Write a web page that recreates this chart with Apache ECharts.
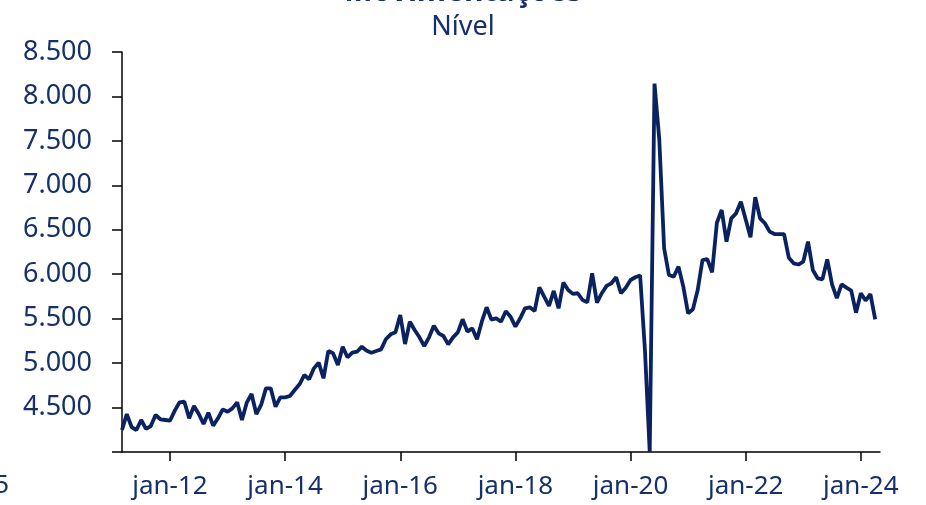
<!DOCTYPE html>
<html>
<head>
<meta charset="utf-8">
<script src="https://cdn.jsdelivr.net/npm/echarts@6/dist/echarts.min.js"></script>
<style>
  html, body { margin: 0; padding: 0; background: #fff; }
  #chart { width: 926px; height: 505px; }
</style>
</head>
<body>
<div id="chart"></div>
<script>
  // meses mar-11 .. abr-24
  const monthNames = ['jan', 'fev', 'mar', 'abr', 'mai', 'jun', 'jul', 'ago', 'set', 'out', 'nov', 'dez']
  const categories = []
  for (let y = 2011; y <= 2024; y++) {
    for (let m = 0; m < 12; m++) {
      if (y === 2011 && m < 2) continue
      if (y === 2024 && m > 3) continue
      categories.push(monthNames[m] + '-' + String(y).slice(2))
    }
  }

  const values = [
    4247, 4427, 4281, 4247, 4360, 4259, 4292, 4416, 4368, 4360,
    4352, 4465, 4559, 4566, 4379, 4517, 4427, 4315, 4442, 4296,
    4379, 4480, 4453, 4491, 4559, 4360, 4555, 4652, 4427, 4529,
    4716, 4716, 4510, 4615, 4615, 4630, 4697, 4762, 4866, 4818,
    4941, 5005, 4829, 5136, 5110, 4979, 5185, 5065, 5117, 5128,
    5185, 5140, 5117, 5136, 5155, 5268, 5324, 5346, 5541, 5215,
    5466, 5373, 5290, 5193, 5290, 5421, 5335, 5305, 5211, 5290,
    5346, 5493, 5354, 5391, 5268, 5466, 5628, 5490, 5504, 5466,
    5584, 5522, 5410, 5504, 5616, 5628, 5586, 5853, 5748, 5643,
    5812, 5616, 5905, 5823, 5779, 5786, 5710, 5684, 6011, 5681,
    5786, 5868, 5898, 5966, 5786, 5849, 5935, 5966, 5986, 5150,
    4000, 8145, 7510, 6292, 5991, 5972, 6085, 5860, 5560, 5606,
    5823, 6160, 6171, 6021, 6579, 6722, 6366, 6629, 6685, 6816,
    6617, 6416, 6866, 6629, 6573, 6479, 6452, 6452, 6452, 6185,
    6123, 6109, 6141, 6366, 6047, 5954, 5942, 6167, 5885, 5731,
    5885, 5849, 5816, 5567, 5786, 5704, 5776, 5493
  ]

  // rótulos do eixo x: jan de anos pares
  const xTickLabels = ['jan-12', 'jan-14', 'jan-16', 'jan-18', 'jan-20', 'jan-22', 'jan-24']
  const yTicks = [4000, 4500, 5000, 5500, 6000, 6500, 7000, 7500, 8000, 8500]

  const navy = '#0a2360'
  const textColor = '#16306b'
  const xTickIdx = xTickLabels.map(l => categories.indexOf(l))

  const fmt = v => String(v).replace(/\B(?=(\d{3})+(?!\d))/g, '.')

  const chart = echarts.init(document.getElementById('chart'))
  const option = {
    animation: false,
    title: [{
      text: 'Movimentações',
      left: 'center',
      top: -28,
      textStyle: {
        color: textColor,
        fontFamily: 'Noto Sans',
        fontSize: 30,
        fontWeight: 'bold'
      }
    }, {
      text: 'Nível',
      left: 'center',
      top: 9,
      textStyle: {
        color: textColor,
        fontFamily: 'Noto Sans',
        fontSize: 27,
        fontWeight: 'normal'
      }
    }],
    graphic: [{
      type: 'text',
      right: 917,
      top: 473,
      style: {
        text: '5',
        fill: textColor,
        font: '26px "Noto Sans"'
      }
    }],
    grid: {
      left: 122,
      right: 46,
      top: 52,
      bottom: 53
    },
    xAxis: {
      type: 'value',
      min: 0,
      max: categories.length,
      splitLine: { show: false },
      axisLine: { show: true, lineStyle: { color: '#000', width: 1.5 } },
      axisTick: {
        show: true,
        length: 9,
        customValues: xTickIdx,
        lineStyle: { color: '#000', width: 1.5 }
      },
      axisLabel: {
        customValues: xTickIdx,
        formatter: v => categories[v],
        margin: 22,
        color: textColor,
        fontFamily: 'Noto Sans',
        fontSize: 26
      }
    },
    yAxis: {
      type: 'value',
      min: 4000,
      max: 8500,
      interval: 500,
      splitLine: { show: false },
      axisLine: { show: true, lineStyle: { color: '#000', width: 1.5 } },
      axisTick: { show: true, length: 10, lineStyle: { color: '#000', width: 1.5 } },
      axisLabel: {
        margin: 30,
        color: textColor,
        fontFamily: 'Noto Sans',
        fontSize: 27,
        formatter: v => (v === yTicks[0] ? '' : fmt(v))
      }
    },
    series: [{
      type: 'line',
      data: values.map((v, i) => [i, v]),
      symbol: 'none',
      lineStyle: { color: navy, width: 3.8 },
      itemStyle: { color: navy }
    }]
  }
  chart.setOption(option)
</script>
</body>
</html>
